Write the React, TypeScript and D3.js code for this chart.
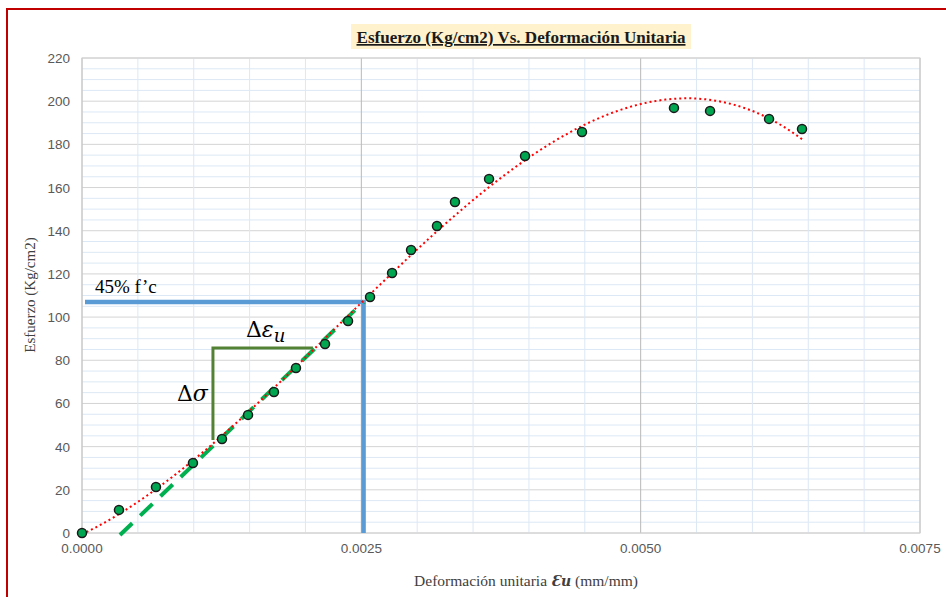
import * as d3 from 'd3';
import React from 'react';

// measured points (strain mm/mm, stress kg/cm2)
const strain = [0, 0.000331, 0.000662, 0.000993, 0.001253, 0.001486, 0.001718, 0.001915, 0.002175, 0.002381,
  0.002578, 0.002775, 0.002945, 0.003177, 0.003338, 0.003643, 0.003965, 0.004475, 0.005298, 0.005621, 0.006149, 0.006444];
const stress = [0, 10.7, 21.3, 32.4, 43.5, 54.7, 65.3, 76.4, 87.5, 98.2,
  109.3, 120.4, 131.1, 142.2, 153.3, 164.0, 174.6, 185.7, 196.9, 195.5, 191.8, 187.1];

const xTicks = [0, 0.0025, 0.005, 0.0075];
const xTickLabels = ['0.0000', '0.0025', '0.0050', '0.0075'];
const yTicks = [0, 20, 40, 60, 80, 100, 120, 140, 160, 180, 200, 220];

// annotation values
const limitStress = 107; // 45% f'c
const limitStrain = 0.00252;
const tangentStart = [0.00034, 0];
const deltaBox = { x0: 0.001172, x1: 0.002067, y0: 43.1, y1: 85.7 };

const W = 946;
const H = 597;
const left = 82, right = 920, top = 58, bottom = 533;

// least squares polynomial (like excel trendline)
function polyFit(xs: number[], ys: number[], order: number) {
  const n = order + 1;
  const A: number[][] = [];
  for (let i = 0; i < n; i++) {
    A.push(new Array(n + 1).fill(0));
  }
  xs.forEach((xv, k) => {
    const x = xv * 1000;
    for (let i = 0; i < n; i++) {
      for (let j = 0; j < n; j++) A[i][j] += Math.pow(x, i + j);
      A[i][n] += ys[k] * Math.pow(x, i);
    }
  });
  for (let i = 0; i < n; i++) {
    let p = i;
    for (let r = i + 1; r < n; r++) if (Math.abs(A[r][i]) > Math.abs(A[p][i])) p = r;
    [A[i], A[p]] = [A[p], A[i]];
    for (let r = 0; r < n; r++) {
      if (r === i) continue;
      const f = A[r][i] / A[i][i];
      for (let c = i; c <= n; c++) A[r][c] -= f * A[i][c];
    }
  }
  const coef = A.map((row, i) => row[n] / row[i]);
  return (xv: number) => coef.reduce((s, c, i) => s + c * Math.pow(xv * 1000, i), 0);
}

export default function App() {
  const x = d3.scaleLinear().domain([0, 0.0075]).range([left, right]);
  const y = d3.scaleLinear().domain([0, 220]).range([bottom, top]);

  const trend = polyFit(strain, stress, 3);
  const xMax = d3.max(strain) as number;
  const trendPts = d3.range(0, 201).map((i) => (i / 200) * xMax);
  const trendLine = d3.line<number>().x((d) => x(d)).y((d) => y(trend(d)))(trendPts);

  const minorX = d3.range(0, 0.0075 + 1e-9, 0.0005);
  const minorY = d3.range(0, 221, 5);

  const axisFont = '"Liberation Sans", Arial, sans-serif';
  const serif = '"Liberation Serif", "DejaVu Serif", serif';

  return (
    <div style={{ position: 'absolute', left: 0, top: 0 }}>
      <svg width={W} height={H} style={{ display: 'block', background: '#fff' }}>
        <rect x={7} y={9} width={W + 20} height={H + 20} fill="none" stroke="#C00000" strokeWidth={2} />

        {/* title */}
        <rect x={351} y={24} width={340} height={25} fill="#FFF2CC" />
        <text x={521} y={43} textAnchor="middle" fontFamily={serif} fontWeight="bold" fontSize={17}
          textDecoration="underline" fill="#1a1a1a" textLength={329} lengthAdjust="spacingAndGlyphs">
          Esfuerzo (Kg/cm2) Vs. Deformación Unitaria
        </text>

        {/* grid */}
        {minorY.map((v) => (
          <line key={'my' + v} x1={left} x2={right} y1={y(v)} y2={y(v)}
            stroke={v % 20 === 0 ? '#D4D4D4' : '#DCE8F5'} strokeWidth={1} />
        ))}
        {minorX.map((v, i) => (
          <line key={'mx' + i} x1={x(v)} x2={x(v)} y1={top} y2={bottom}
            stroke={i % 5 === 0 ? '#B8B8B8' : '#DCE8F5'} strokeWidth={1} />
        ))}
        <rect x={left} y={top} width={right - left} height={bottom - top} fill="none" stroke="#D0D0D0" />

        {/* ticks */}
        {yTicks.map((v) => (
          <text key={'yt' + v} x={70} y={y(v) + 5} textAnchor="end" fontFamily={axisFont} fontSize={13.5} fill="#595959">{v}</text>
        ))}
        {xTicks.map((v, i) => (
          <text key={'xt' + i} x={x(v)} y={553} textAnchor="middle" fontFamily={axisFont} fontSize={13.5} fill="#595959">{xTickLabels[i]}</text>
        ))}

        {/* axis titles */}
        <text transform="translate(35,295) rotate(-90)" textAnchor="middle" fontFamily={serif} fontSize={15} fill="#404040">
          Esfuerzo (Kg/cm2)
        </text>
        <text x={526} y={586} textAnchor="middle" fontFamily={serif} fontSize={15.5} fill="#404040">
          Deformación unitaria <tspan fontStyle="italic" fontWeight="bold" fontSize={14} fontFamily='"DejaVu Serif", serif'>Ɛu</tspan> (mm/mm)
        </text>

        {/* 45% f'c lines */}
        <line x1={x(0) + 3} x2={x(limitStrain) + 2} y1={y(limitStress)} y2={y(limitStress)} stroke="#5B9BD5" strokeWidth={4.5} />
        <line x1={x(limitStrain)} x2={x(limitStrain)} y1={y(limitStress) - 2} y2={y(0)} stroke="#5B9BD5" strokeWidth={4.5} />
        <text x={x(0) + 13} y={y(limitStress) - 9} fontFamily={serif} fontSize={19} fill="#000">45% f’c</text>

        {/* delta triangle */}
        <polyline points={`${x(deltaBox.x0)},${y(deltaBox.y0)} ${x(deltaBox.x0)},${y(deltaBox.y1)} ${x(deltaBox.x1)},${y(deltaBox.y1)}`}
          fill="none" stroke="#548235" strokeWidth={3} />
        <text x={x(deltaBox.x0) - 36} y={y(65) + 8} fontFamily='"DejaVu Serif", serif' fontSize={22} fill="#000">
          Δ<tspan fontStyle="italic">σ</tspan>
        </text>
        <text x={x(deltaBox.x0) + 33} y={y(deltaBox.y1) - 11} fontFamily='"DejaVu Serif", serif' fontSize={22} fill="#000">
          Δ<tspan fontStyle="italic">ε</tspan><tspan fontStyle="italic" fontSize={18} dy={5}>u</tspan>
        </text>

        {/* tangent */}
        <line x1={x(tangentStart[0])} y1={y(tangentStart[1]) + 2} x2={x(limitStrain)} y2={y(limitStress)}
          stroke="#00B050" strokeWidth={4} strokeDasharray="17 11" />

        {/* trend */}
        <path d={trendLine || ''} fill="none" stroke="#FF0000" strokeWidth={2} strokeDasharray="2 3" />

        {/* points */}
        {strain.map((s, i) => (
          <circle key={'p' + i} cx={x(s)} cy={y(stress[i])} r={4.5} fill="#00A650" stroke="#1a1a1a" strokeWidth={1.5} />
        ))}
      </svg>
    </div>
  );
}
